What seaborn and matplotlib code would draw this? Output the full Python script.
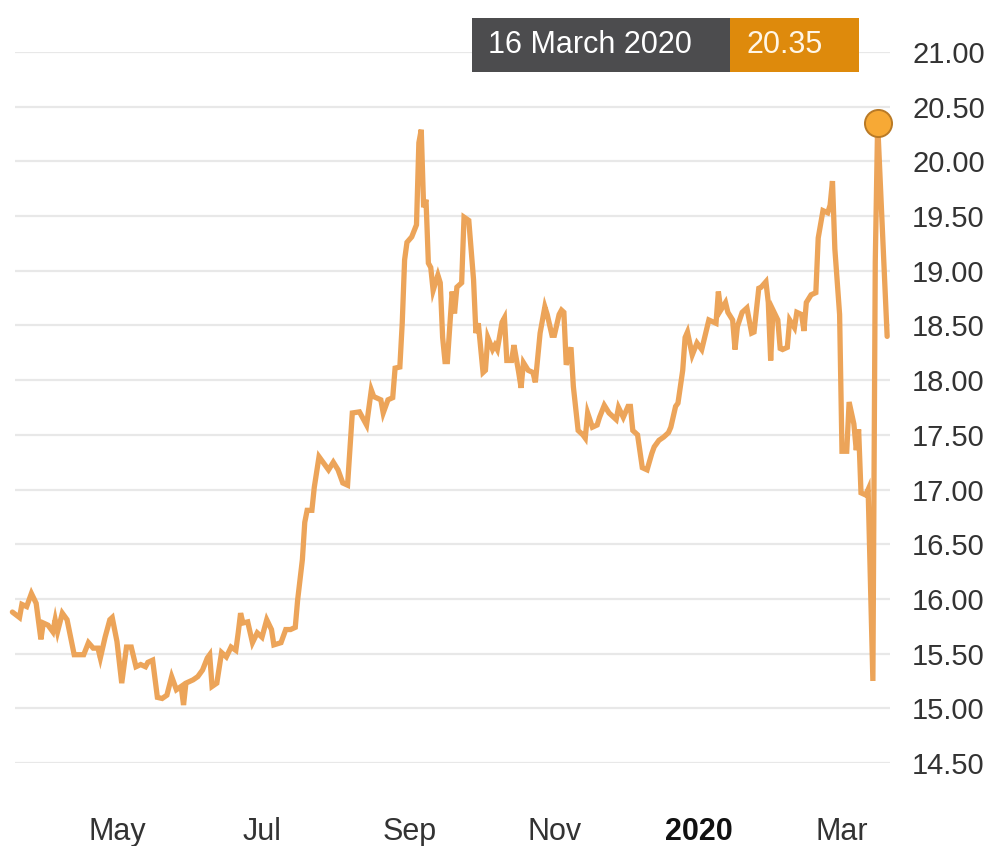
import matplotlib
matplotlib.use("Agg")
import matplotlib.pyplot as plt
from matplotlib.patches import Rectangle
import pandas as pd
import seaborn as sns

# Daily closing values
dates = [
    "2019-03-18", "2019-03-21", "2019-03-22", "2019-03-24", "2019-03-26", "2019-03-28",
    "2019-03-30", "2019-03-31", "2019-04-02", "2019-04-04", "2019-04-05", "2019-04-06",
    "2019-04-08", "2019-04-10", "2019-04-13", "2019-04-17", "2019-04-19", "2019-04-21",
    "2019-04-23", "2019-04-24", "2019-04-26", "2019-04-28", "2019-04-29", "2019-05-01",
    "2019-05-03", "2019-05-05", "2019-05-07", "2019-05-09", "2019-05-11", "2019-05-13",
    "2019-05-14", "2019-05-16", "2019-05-18", "2019-05-20", "2019-05-22", "2019-05-24",
    "2019-05-26", "2019-05-28", "2019-05-29", "2019-05-30", "2019-06-02", "2019-06-04",
    "2019-06-06", "2019-06-08", "2019-06-09", "2019-06-10", "2019-06-12", "2019-06-14",
    "2019-06-16", "2019-06-18", "2019-06-20", "2019-06-21", "2019-06-22", "2019-06-23",
    "2019-06-25", "2019-06-27", "2019-06-29", "2019-07-01", "2019-07-03", "2019-07-05",
    "2019-07-06", "2019-07-09", "2019-07-11", "2019-07-13", "2019-07-15", "2019-07-16",
    "2019-07-18", "2019-07-19", "2019-07-20", "2019-07-22", "2019-07-23", "2019-07-25",
    "2019-07-27", "2019-07-29", "2019-07-31", "2019-08-02", "2019-08-04", "2019-08-06",
    "2019-08-08", "2019-08-11", "2019-08-14", "2019-08-16", "2019-08-17", "2019-08-20",
    "2019-08-21", "2019-08-23", "2019-08-25", "2019-08-26", "2019-08-28", "2019-08-29",
    "2019-08-30", "2019-08-31", "2019-09-02", "2019-09-04", "2019-09-05", "2019-09-06",
    "2019-09-07", "2019-09-08", "2019-09-09", "2019-09-10", "2019-09-11", "2019-09-13",
    "2019-09-14", "2019-09-15", "2019-09-16", "2019-09-17", "2019-09-19", "2019-09-20",
    "2019-09-21", "2019-09-23", "2019-09-24", "2019-09-26", "2019-09-28", "2019-09-29",
    "2019-09-30", "2019-10-02", "2019-10-03", "2019-10-04", "2019-10-06", "2019-10-07",
    "2019-10-08", "2019-10-10", "2019-10-11", "2019-10-12", "2019-10-14", "2019-10-15",
    "2019-10-17", "2019-10-18", "2019-10-19", "2019-10-21", "2019-10-23", "2019-10-24",
    "2019-10-26", "2019-10-28", "2019-10-29", "2019-10-31", "2019-11-01", "2019-11-03",
    "2019-11-04", "2019-11-05", "2019-11-06", "2019-11-08", "2019-11-09", "2019-11-11",
    "2019-11-13", "2019-11-14", "2019-11-15", "2019-11-17", "2019-11-19", "2019-11-20",
    "2019-11-22", "2019-11-24", "2019-11-27", "2019-11-28", "2019-11-30", "2019-12-02",
    "2019-12-03", "2019-12-04", "2019-12-06", "2019-12-08", "2019-12-10", "2019-12-12",
    "2019-12-13", "2019-12-15", "2019-12-17", "2019-12-19", "2019-12-20", "2019-12-22",
    "2019-12-23", "2019-12-25", "2019-12-26", "2019-12-27", "2019-12-29", "2019-12-31",
    "2020-01-02", "2020-01-04", "2020-01-05", "2020-01-08", "2020-01-09", "2020-01-10",
    "2020-01-12", "2020-01-13", "2020-01-15", "2020-01-16", "2020-01-17", "2020-01-19",
    "2020-01-20", "2020-01-21", "2020-01-23", "2020-01-24", "2020-01-26", "2020-01-27",
    "2020-01-29", "2020-01-30", "2020-01-31", "2020-02-01", "2020-02-03", "2020-02-04",
    "2020-02-05", "2020-02-07", "2020-02-08", "2020-02-10", "2020-02-11", "2020-02-13",
    "2020-02-14", "2020-02-15", "2020-02-17", "2020-02-19", "2020-02-20", "2020-02-22",
    "2020-02-24", "2020-02-25", "2020-02-26", "2020-02-27", "2020-02-29", "2020-03-01",
    "2020-03-03", "2020-03-04", "2020-03-06", "2020-03-07", "2020-03-08", "2020-03-09",
    "2020-03-11", "2020-03-12", "2020-03-14", "2020-03-15", "2020-03-16", "2020-03-20",
]
prices = [
    15.88, 15.83, 15.95, 15.93, 16.05, 15.96,
    15.63, 15.78, 15.76, 15.70, 15.81, 15.70,
    15.87, 15.81, 15.49, 15.49, 15.60, 15.55,
    15.55, 15.46, 15.65, 15.81, 15.83, 15.61,
    15.23, 15.56, 15.56, 15.38, 15.40, 15.38,
    15.42, 15.44, 15.10, 15.09, 15.12, 15.29,
    15.17, 15.20, 15.03, 15.23, 15.26, 15.29,
    15.35, 15.46, 15.49, 15.20, 15.23, 15.51,
    15.47, 15.56, 15.53, 15.69, 15.87, 15.78,
    15.79, 15.60, 15.69, 15.65, 15.81, 15.72,
    15.58, 15.60, 15.72, 15.72, 15.74, 15.99,
    16.36, 16.70, 16.81, 16.81, 17.02, 17.30,
    17.24, 17.18, 17.25, 17.18, 17.06, 17.04,
    17.70, 17.71, 17.59, 17.91, 17.85, 17.82,
    17.70, 17.82, 17.84, 18.11, 18.12, 18.52,
    19.10, 19.26, 19.31, 19.42, 20.17, 20.29,
    19.58, 19.65, 19.07, 19.03, 18.82, 18.96,
    18.89, 18.39, 18.17, 18.17, 18.81, 18.61,
    18.85, 18.89, 19.49, 19.46, 18.92, 18.43,
    18.52, 18.07, 18.09, 18.39, 18.28, 18.32,
    18.28, 18.53, 18.57, 18.18, 18.18, 18.32,
    18.07, 17.93, 18.16, 18.09, 18.07, 17.98,
    18.43, 18.67, 18.60, 18.41, 18.41, 18.60,
    18.64, 18.62, 18.14, 18.30, 17.94, 17.54,
    17.50, 17.47, 17.70, 17.57, 17.59, 17.66,
    17.77, 17.70, 17.64, 17.75, 17.66, 17.76,
    17.76, 17.54, 17.50, 17.20, 17.18, 17.33,
    17.39, 17.45, 17.48, 17.52, 17.57, 17.76,
    17.79, 18.09, 18.39, 18.44, 18.23, 18.34,
    18.28, 18.46, 18.55, 18.52, 18.81, 18.64,
    18.71, 18.62, 18.55, 18.28, 18.49, 18.62,
    18.64, 18.66, 18.43, 18.44, 18.84, 18.85,
    18.90, 18.71, 18.18, 18.64, 18.55, 18.29,
    18.28, 18.30, 18.55, 18.48, 18.62, 18.60,
    18.45, 18.71, 18.78, 18.80, 19.30, 19.55,
    19.53, 19.60, 19.82, 19.20, 18.60, 17.35,
    17.35, 17.80, 17.60, 17.36, 17.55, 16.97,
    16.95, 17.00, 15.25, 19.08, 20.35, 18.40,
]

month_ticks = ["2019-05-01", "2019-07-01", "2019-09-01", "2019-11-01", "2020-01-01", "2020-03-01"]
month_labels = ["May", "Jul", "Sep", "Nov", "2020", "Mar"]
y_ticks = [14.5, 15.0, 15.5, 16.0, 16.5, 17.0, 17.5, 18.0, 18.5, 19.0, 19.5, 20.0, 20.5, 21.0]
highlight_date = "2020-03-16"

LINE = "#eca459"
DOT_FILL = "#f7a935"
DOT_EDGE = "#b97a26"
GRID = "#e8e8e8"
TEXT = "#333333"
TIP_DARK = "#4c4c4e"
TIP_ORANGE = "#de8a0c"

sns.set_theme(style="white")
plt.rcParams["font.family"] = ["Liberation Sans", "DejaVu Sans"]

W, H = 995, 846
fig = plt.figure(figsize=(W / 100, H / 100), dpi=100, facecolor="white")
ax = fig.add_axes([15 / W, 83 / H, 875 / W, 711 / H])

df = pd.DataFrame({"date": pd.to_datetime(dates), "price": prices})
sns.lineplot(data=df, x="date", y="price", ax=ax, color=LINE, linewidth=3.8,
             zorder=3, solid_joinstyle="miter")
ax.lines[-1].set_clip_on(False)

peak = df[df["date"] == pd.Timestamp(highlight_date)]
sns.scatterplot(data=peak, x="date", y="price", ax=ax, s=380, color=DOT_FILL,
                edgecolor=DOT_EDGE, linewidth=1.4, zorder=5, clip_on=False, legend=False)

origin = pd.Timestamp("2019-05-01")
ax.set_xlim(origin - pd.Timedelta(days=42.9), origin + pd.Timedelta(days=325.2))
ax.set_ylim(14.5, 21.0)

ax.set_yticks(y_ticks)
ax.set_yticklabels([f"{v:.2f}" for v in y_ticks])
ax.yaxis.tick_right()
ax.tick_params(axis="y", length=0, pad=16, labelsize=21, labelcolor=TEXT)

ax.set_xticks(pd.to_datetime(month_ticks))
ax.set_xticklabels(month_labels)
ax.tick_params(axis="x", length=0, pad=39, labelsize=22, labelcolor=TEXT)
for lbl in ax.get_xticklabels():
    if lbl.get_text() == "2020":
        lbl.set_fontweight("bold")
        lbl.set_color("#111111")

ax.grid(axis="y", color=GRID, linewidth=1.6)
ax.grid(axis="x", visible=False)
for sp in ax.spines.values():
    sp.set_visible(False)
ax.set_xlabel("")
ax.set_ylabel("")

# Tooltip for the highlighted point
pdate = peak["date"].iloc[0]
pval = peak["price"].iloc[0]
box_top, box_bot = 18, 72
fig.add_artist(Rectangle((472 / W, 1 - box_bot / H), (730 - 472) / W, (box_bot - box_top) / H,
                         transform=fig.transFigure, facecolor=TIP_DARK, edgecolor="none", zorder=10))
fig.add_artist(Rectangle((730 / W, 1 - box_bot / H), (859 - 730) / W, (box_bot - box_top) / H,
                         transform=fig.transFigure, facecolor=TIP_ORANGE, edgecolor="none", zorder=10))
ymid = 1 - 45 / H
fig.text(488 / W, ymid, f"{pdate.day} {pdate:%B %Y}", color="white", fontsize=22,
         va="center", ha="left", zorder=11)
fig.text(747 / W, ymid, f"{pval:.2f}", color="#fff6e6", fontsize=22,
         va="center", ha="left", zorder=11)

fig.savefig("out.png", dpi=100, facecolor="white")
